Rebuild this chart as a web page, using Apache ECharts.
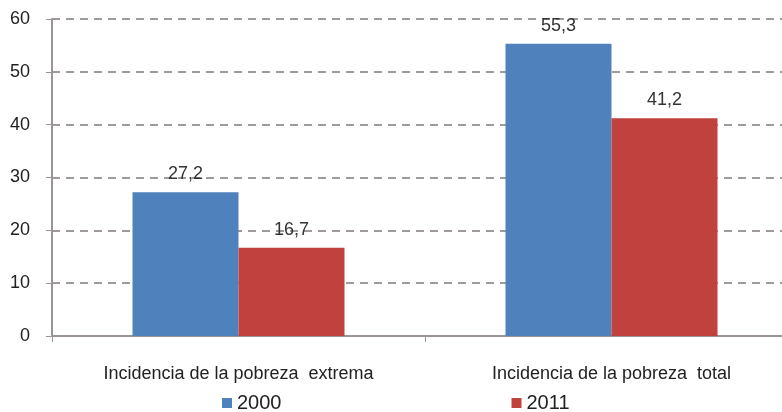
<!DOCTYPE html>
<html>
<head>
<meta charset="utf-8">
<script src="https://cdn.jsdelivr.net/npm/echarts@6/dist/echarts.min.js"></script>
<style>
  html, body { margin: 0; padding: 0; background: #fff; }
  #chart { width: 782px; height: 412px; }
</style>
</head>
<body>
<div id="chart"></div>
<script>
var categories = ['Incidencia de la pobreza  extrema', 'Incidencia de la pobreza  total'];
var values2000 = [27.2, 55.3];
var values2011 = [16.7, 41.2];

var fmt = function (p) { return String(p.value).replace('.', ','); };

var chart = echarts.init(document.getElementById('chart'));
chart.setOption({
  animation: false,
  textStyle: { fontFamily: 'Liberation Sans, Arial, sans-serif' },
  grid: { left: 52, top: 19, right: -16, bottom: 76, outerBoundsMode: 'none', containLabel: false },
  legend: {
    left: 217, top: 388,
    itemWidth: 10, itemHeight: 10, itemGap: 230,
    icon: 'rect',
    textStyle: { fontSize: 20, color: '#222' },
    data: ['2000', '2011']
  },
  xAxis: {
    type: 'category',
    data: categories,
    axisLine: { lineStyle: { color: '#9a9494', width: 2 } },
    axisTick: { show: true, length: 6, lineStyle: { color: '#9a9494' } },
    axisLabel: { fontSize: 18, color: '#222', margin: 29 }
  },
  yAxis: {
    type: 'value',
    min: 0, max: 60, interval: 10,
    axisLine: { show: true, lineStyle: { color: '#9a9494', width: 2 } },
    axisTick: { show: true, inside: false, length: 6, lineStyle: { color: '#9a9494' } },
    axisLabel: { fontSize: 18, color: '#222', margin: 22 },
    splitLine: { lineStyle: { color: '#a09a9a', type: [8, 6], width: 2 } }
  },
  series: [
    {
      name: '2000', type: 'bar', data: values2000,
      barWidth: 106, barGap: '0%',
      itemStyle: { color: '#4f81bd' },
      label: { show: true, position: 'top', distance: 9, fontSize: 18, color: '#333', formatter: fmt }
    },
    {
      name: '2011', type: 'bar', data: values2011,
      barWidth: 106, barGap: '0%',
      itemStyle: { color: '#c0413d' },
      label: { show: true, position: 'top', distance: 9, fontSize: 18, color: '#333', formatter: fmt }
    }
  ]
});
</script>
</body>
</html>
